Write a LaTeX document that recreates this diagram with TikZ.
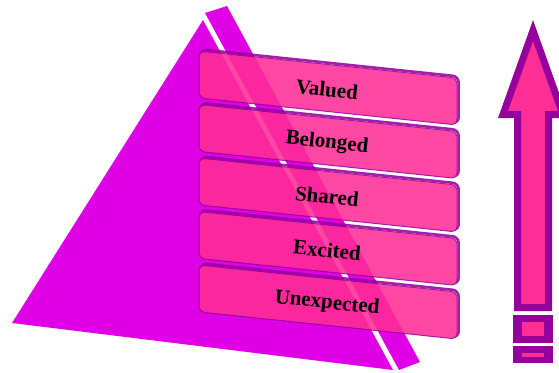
\documentclass[tikz,border=0pt]{standalone}
\usepackage{fontspec}
\setmainfont{Liberation Serif}
\definecolor{pyr}{RGB}{224,0,230}
\definecolor{pk}{RGB}{255,45,150}
\definecolor{pur}{RGB}{150,0,155}
\tikzset{
  lbl/.style={font=\fontsize{21}{22}\selectfont\bfseries, rotate=-6, inner sep=0pt},
  boxedge/.style={rounded corners=6pt},
}
\begin{document}
\begin{tikzpicture}[x=1pt,y=-1pt]
\useasboundingbox (0,0) rectangle (559,372);
% pyramid
\fill[pyr] (203,20) -- (12,323) -- (393,370) -- cycle;
\fill[pyr] (205,13) -- (227,6) -- (420,362) -- (399,370) -- cycle;
% boxes
\foreach \t [count=\i from 0] in {Valued,Belonged,Shared,Excited,Unexpected}{
  \pgfmathsetmacro\ya{51+53.5*\i}
  \pgfmathsetmacro\yb{\ya+47}
  \pgfmathsetmacro\yc{\ya+27}
  \pgfmathsetmacro\yd{\ya+74}
  \begin{scope}[transparency group, opacity=0.88]
    \draw[pur, line width=2.6pt, boxedge] (200.5,\ya-1.6) -- (458.6,\yc-1.6) -- (458.6,\yd-1.6) -- (200.5,\yb-1.6) -- cycle;
    \draw[pur, line width=1pt, fill=pk, boxedge] (199,\ya) -- (457,\yc) -- (457,\yd) -- (199,\yb) -- cycle;
  \end{scope}
  \node[lbl] (b\i) at (327,\ya+38.5) {\t};
}
% arrow
\draw[pur, line width=7pt, fill=pk, miter limit=10] (533,30.5) -- (563,114.5) -- (548.5,114.5) -- (548.5,307.5) -- (517.5,307.5) -- (517.5,114.5) -- (503,114.5) -- cycle;
\fill[pur] (513,315) rectangle (553,343);
\fill[pk] (522,322) rectangle (544,336);
\fill[pur] (513,346) rectangle (553,363);
\fill[pk] (522,353) rectangle (544,357);
\end{tikzpicture}
\end{document}
